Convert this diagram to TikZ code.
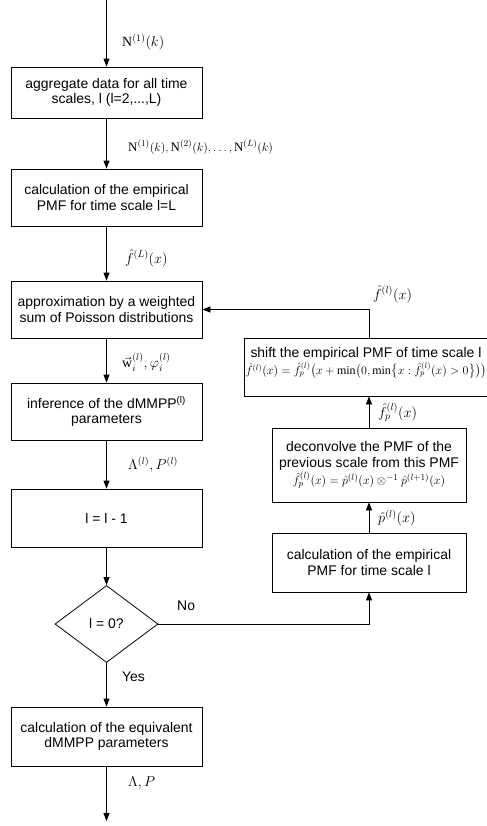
\documentclass[tikz,border=0pt]{standalone}
\usepackage{amsmath,amssymb}
\usepackage{fontspec}
\setmainfont{Liberation Sans}
\setmathrm{Liberation Serif}
\usetikzlibrary{arrows.meta,shapes.geometric}
\tikzset{
  box/.style={draw, line width=0.8bp, align=center, inner sep=2bp, font=\fontsize{14}{15.5}\selectfont},
  arr/.style={draw, line width=0.8bp, -{Triangle[length=8bp,width=6bp]}},
  lab/.style={anchor=west, inner sep=0pt, font=\fontsize{14}{16}\selectfont},
  txt/.style={anchor=west, inner sep=0pt, font=\fontsize{14}{15}\selectfont},
}
\begin{document}
\begin{tikzpicture}[x=1bp,y=-1bp]
\useasboundingbox (0,0) rectangle (487,826);
% left column
\coordinate (start) at (106.5,0);
\node[box, minimum width=191bp, minimum height=51bp] (b1) at (106.5,92.5) {aggregate data for all time\\scales, l (l=2,...,L)};
\node[box, minimum width=191bp, minimum height=57bp] (b2) at (106.5,197.5) {calculation of the empirical\\PMF for time scale l=L};
\node[box, minimum width=191bp, minimum height=57bp] (b3) at (106.5,309.5) {approximation by a weighted\\sum of Poisson distributions};
\node[box, minimum width=191bp, minimum height=57bp] (b4) at (106.5,411.5) {inference of the dMMPP\textsuperscript{(l)}\\parameters};
\node[box, minimum width=191bp, minimum height=58bp] (b5) at (106.5,518) {l = l - 1};
\node[draw, line width=0.8bp, shape=diamond, inner sep=0pt, minimum width=103bp, minimum height=77bp, font=\fontsize{14}{15}\selectfont] (d) at (106.5,624) {l = 0?};
\node[box, minimum width=191bp, minimum height=59bp] (b6) at (106.5,736.5) {calculation of the equivalent\\dMMPP parameters};
\coordinate (end) at (106.5,821);
% right column
\node[box, minimum width=194bp, minimum height=59bp] (r1) at (369,562.5) {calculation of the empirical\\PMF for time scale l};
\node[box, minimum width=194bp, minimum height=74bp] (r2) at (369,465) {deconvolve the PMF of the\\previous scale from this PMF\\[1bp]
  {\fontsize{13}{15}\selectfont$\hat f_p^{(l)}(x) = \hat p^{(l)}(x)\otimes^{-1}\hat p^{(l+1)}(x)$}};
\node[box, minimum width=238bp, minimum height=58bp, inner sep=1bp] (r3) at (366,367) {shift the empirical PMF of time scale l\\[2bp]
  {\fontsize{12}{14}\selectfont$\hat f^{(l)}(x) = \hat f_p^{(l)}\bigl(x+\min\bigl(0,\min\bigl\{x:\hat f_p^{(l)}(x)>0\bigr\}\bigr)\bigr)$}\\[-3bp]};
% connectors
\draw[arr] (start) -- (b1);
\draw[arr] (b1) -- (b2);
\draw[arr] (b2) -- (b3);
\draw[arr] (b3) -- (b4);
\draw[arr] (b4) -- (b5);
\draw[arr] (b5) -- (d);
\draw[arr] (d) -- (b6);
\draw[arr] (b6) -- (end);
\draw[arr] (d.east) -| (r1.south);
\draw[arr] (r1) -- (r2);
\draw[arr] (r2.north) -- (r2.north |- r3.south);
\draw[arr] (r3.north -| r2.north) |- (b3.east);
% labels
\node[lab] (l0) at (122,42) {$\mathrm{N}^{(1)}(k)$};
\node[lab, font=\fontsize{13}{15}\selectfont] (l1) at (128,147) {$\mathrm{N}^{(1)}(k), \mathrm{N}^{(2)}(k),\ldots, \mathrm{N}^{(L)}(k)$};
\node[lab] (l2) at (125,258) {$\hat f^{(L)}(x)$};
\node[lab] (l3) at (122,362) {$\vec{\mathrm{w}}_i^{(l)}, \varphi_i^{(l)}$};
\node[lab] (l4) at (128,465) {$\Lambda^{(l)}, P^{(l)}$};
\node[txt] (no) at (177,606) {No};
\node[txt] (yes) at (122,677) {Yes};
\node[lab] (l5) at (128,783) {$\Lambda, P$};
\node[lab] (l6) at (378,518) {$\hat p^{(l)}(x)$};
\node[lab] (l7) at (378,412) {$\hat f_p^{(l)}(x)$};
\node[lab] (l8) at (373,294) {$\hat f^{(l)}(x)$};
\end{tikzpicture}
\end{document}
